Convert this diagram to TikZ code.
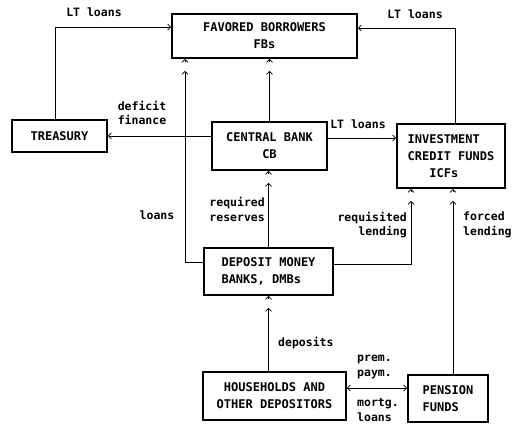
\documentclass[tikz,border=0pt]{standalone}
\usepackage{fontspec}
\setmonofont{DejaVu Sans Mono}
\usetikzlibrary{arrows.meta}
\newcommand{\dgboxfont}{\ttfamily\bfseries\fontsize{12}{17}\selectfont}
\newcommand{\dglblfont}{\ttfamily\bfseries\fontsize{11.5}{14.5}\selectfont}
\begin{document}
\begin{tikzpicture}[x=1pt,y=-1pt,
  box/.style={draw,line width=1.6pt,inner sep=0pt,font=\dgboxfont},
  lbl/.style={font=\dglblfont,inner sep=0pt},
  conn/.style={line width=0.8pt},
  tip/.style={-{Straight Barb[length=3pt,width=6pt]}},
  btip/.style={{Straight Barb[length=3pt,width=6pt]}-{Straight Barb[length=3pt,width=6pt]}},
]
\path[use as bounding box] (0,0) rectangle (515,424);

% boxes
\node[box,minimum width=185pt,minimum height=44pt,align=center] (fb) at (264.5,36) {FAVORED BORROWERS\\FBs};
\node[box,minimum width=95pt,minimum height=32pt] (tr) at (59.5,136) {TREASURY};
\node[box,minimum width=115pt,minimum height=48pt,align=center] (cb) at (269.5,146) {CENTRAL BANK\\CB};
\node[box,minimum width=108pt,minimum height=64pt,align=left] (icf) at (451,156) {INVESTMENT\\CREDIT FUNDS\\\hphantom{CRE}ICFs};
\node[box,minimum width=129pt,minimum height=47pt,align=left] (dmb) at (268.5,271.5) {DEPOSIT MONEY\\BANKS, DMBs};
\node[box,minimum width=143pt,minimum height=48pt,align=center] (hh) at (274.5,396) {HOUSEHOLDS AND\\OTHER DEPOSITORS};
\node[box,minimum width=80pt,minimum height=47pt,align=left] (pf) at (448,398.5) {PENSION\\FUNDS};

% helper coordinates (arrival points on box bottoms)
\coordinate (fbL) at ([xshift=-79.5pt]fb.south);
\coordinate (fbM) at (cb.north |- fb.south);
\coordinate (cbB) at (dmb.north |- cb.south);
\coordinate (icfL) at ([xshift=-40pt]icf.south);
\coordinate (icfR) at ([xshift=2pt]icf.south);
\coordinate (dmbB) at (dmb.south);
% second caret below each bottom arrival point
\foreach \p in {fbL,fbM,cbB,icfL,icfR,dmbB}{
  \coordinate (\p2) at ([yshift=-12pt]\p);
  \draw[conn,tip] ([yshift=-3pt]\p) -- (\p);
}

% connectors
\draw[conn,tip] ([xshift=-4.5pt]tr.north) |- ([yshift=9pt]fb.west);
\draw[conn,tip] ([xshift=4pt]icf.north) |- ([yshift=8pt]fb.east);
\draw[conn,tip] (cb.north) -- (fbM2);
\draw[conn,tip] (cb.west |- tr.east) -- (tr.east);
\draw[conn,tip] ([yshift=8pt]cb.east) -- ([yshift=18pt]icf.west);
\draw[conn,tip] ([yshift=9.5pt]dmb.west) -| (fbL2);
\draw[conn,tip] (dmb.north) -- (cbB2);
\draw[conn,tip] ([yshift=7.5pt]dmb.east) -| (icfL2);
\draw[conn,tip] (pf.north -| icfR2) -- (icfR2);
\draw[conn,tip] (hh.north -| dmbB2) -- (dmbB2);
\draw[conn,btip] ([yshift=8pt]hh.east) -- ([yshift=10.5pt]pf.west);

% labels
\node[lbl] (l1) at (94,12) {LT loans};
\node[lbl] (l2) at (415,14) {LT loans};
\node[lbl,align=left] (l3) at (142,113) {deficit\\finance};
\node[lbl] (l4) at (358,124) {LT loans};
\node[lbl] (l5) at (157,215) {loans};
\node[lbl,align=right,anchor=east] (l6) at (265,209.5) {required\\reserves};
\node[lbl,align=right,anchor=east] (l7) at (407,225) {requisited\\lending};
\node[lbl,align=left,anchor=west] (l8) at (463,225) {forced\\lending};
\node[lbl,anchor=west] (l9) at (278,343) {deposits};
\node[lbl,align=left,anchor=west] (l10) at (357,367) {prem.\\paym.};
\node[lbl,align=left,anchor=west] (l11) at (357,410) {mortg.\\loans};
\end{tikzpicture}
\end{document}
